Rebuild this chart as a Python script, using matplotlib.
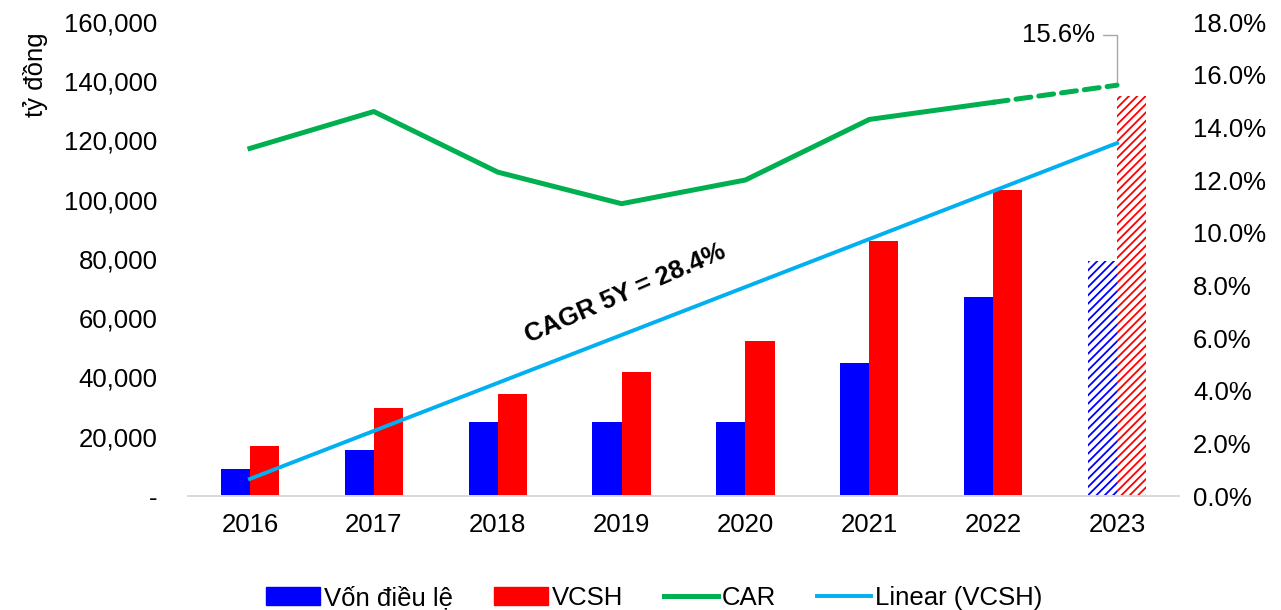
import numpy as np
import matplotlib.pyplot as plt
from matplotlib.patches import Patch
from matplotlib.lines import Line2D
from matplotlib.ticker import FuncFormatter

plt.rcParams['font.family'] = ['Liberation Sans', 'DejaVu Sans']
plt.rcParams['hatch.linewidth'] = 1.3

# data
years = ['2016', '2017', '2018', '2019', '2020', '2021', '2022', '2023']
von_dieu_le = [9100, 15500, 25000, 25000, 25000, 44900, 67200, 79300]   # ty dong
vcsh = [16900, 29700, 34400, 41900, 52300, 86100, 103300, 135000]      # ty dong
car = [13.2, 14.6, 12.3, 11.1, 12.0, 14.3, 14.95, 15.6]                 # %
cagr_text = 'CAGR 5Y = 28.4%'

BLUE = '#0000FF'
RED = '#FF0000'
GREEN = '#00B050'
LBLUE = '#00B0F0'
FS = 18.5

fig = plt.figure(figsize=(12.81, 6.10), dpi=100)
ax = fig.add_axes([188/1281, 1-496/610, (1179-188)/1281, (496-22)/610])
ax2 = ax.twinx()

x = np.arange(len(years))
w = 0.235
n = len(years) - 1  # last year is a forecast (hatched)

ax.bar(x[:n] - w/2, von_dieu_le[:n], w, color=BLUE, zorder=2)
ax.bar(x[:n] + w/2, vcsh[:n], w, color=RED, zorder=2)
ax.bar(x[n:] - w/2, von_dieu_le[n:], w, facecolor='white', edgecolor=BLUE,
       hatch='////', lw=0, zorder=2)
ax.bar(x[n:] + w/2, vcsh[n:], w, facecolor='white', edgecolor=RED,
       hatch='////', lw=0, zorder=2)

# linear trend of VCSH
coef = np.polyfit(x, vcsh, 1)
trend = np.polyval(coef, x)
ax.plot(x, trend, color=LBLUE, lw=2.8, zorder=3)

ax.set_xlim(-0.5, len(years) - 0.5)
ax.set_ylim(0, 160000)
ax.set_yticks(np.arange(0, 160001, 20000))
ax.yaxis.set_major_formatter(FuncFormatter(lambda v, p: '-' if v == 0 else f'{v:,.0f}'))
ax.set_xticks(x)
ax.set_xticklabels(years)
ax.tick_params(length=0, labelsize=FS, pad=12)
ax.tick_params(axis='y', pad=22)

for a in (ax, ax2):
    for s in ('top', 'left', 'right'):
        a.spines[s].set_visible(False)
    a.spines['bottom'].set_color('#d9d9d9')
    a.spines['bottom'].set_linewidth(1.2)

# CAR on secondary axis
ax2.plot(x[:n], car[:n], color=GREEN, lw=3.6, zorder=4)
ax2.plot(x[n-1:], car[n-1:], color=GREEN, lw=3.6, dashes=(3, 1.6),
         dash_capstyle='round', zorder=4)
ax2.set_ylim(0, 18)
ax2.set_yticks(np.arange(0, 18.1, 2))
ax2.yaxis.set_major_formatter(FuncFormatter(lambda v, p: f'{v:.1f}%'))
ax2.tick_params(length=0, labelsize=FS, pad=10)

ax2.annotate(f'{car[-1]:.1f}%', xy=(x[-1], car[-1]), xytext=(-16, 36),
             textcoords='offset points', ha='right', va='center', fontsize=FS,
             arrowprops=dict(arrowstyle='-', color='#a6a6a6', lw=1,
                             connectionstyle='angle,angleA=0,angleB=90,rad=0',
                             shrinkA=4, shrinkB=0))

ax.text(3.03, 68500, cagr_text, fontsize=FS, fontweight='bold',
        rotation=23.5, rotation_mode='anchor', ha='center', va='center')

fig.text(35/1281, 1-75/610, 'tỷ đồng', rotation=90, fontsize=FS,
         ha='center', va='center')

handles = [Patch(color=BLUE), Patch(color=RED),
           Line2D([], [], color=GREEN, lw=3.6), Line2D([], [], color=LBLUE, lw=2.8)]
labels = ['Vốn điều lệ', 'VCSH', 'CAR', 'Linear (VCSH)']
fig.legend(handles, labels, loc='center', bbox_to_anchor=(654/1281, 1-598/610),
           ncol=4, frameon=False, fontsize=FS, handlelength=2.1, handleheight=0.65,
           handletextpad=0.15, columnspacing=1.6)

fig.savefig('out.png', dpi=100)
